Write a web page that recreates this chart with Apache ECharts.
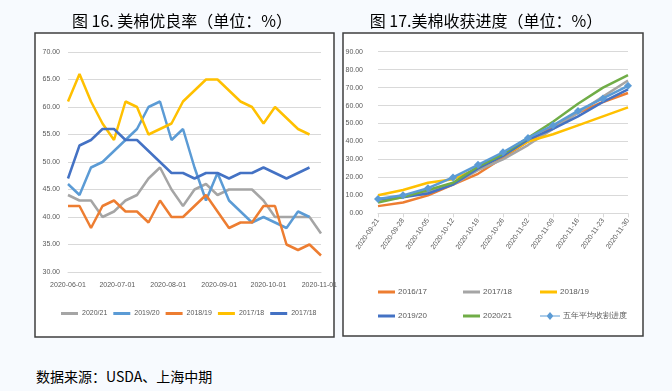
<!DOCTYPE html>
<html><head><meta charset="utf-8">
<script src="https://cdn.jsdelivr.net/npm/echarts@6/dist/echarts.min.js"></script>
<style>
html,body{margin:0;padding:0;background:#F7FAFE;width:672px;height:391px;overflow:hidden;}
#c1{position:absolute;left:0;top:0;width:340px;height:345px;}
#c2{position:absolute;left:340px;top:0;width:332px;height:345px;}
#src{position:absolute;left:36px;top:366px;font-family:"Noto Sans CJK SC";font-size:14px;color:#000;}
</style></head>
<body>
<div id="c1"></div><div id="c2"></div>
<div id="src">数据来源：USDA、上海中期</div>
<script>
// ---- Left chart: 美棉优良率 ----
const leftTitle = '图 16. 美棉优良率（单位：%）';
const leftDates = ['2020-06-01','2020-06-08','2020-06-15','2020-06-22','2020-06-29','2020-07-06','2020-07-13','2020-07-20','2020-07-27','2020-08-03','2020-08-10','2020-08-17','2020-08-24','2020-08-31','2020-09-07','2020-09-14','2020-09-21','2020-09-28','2020-10-05','2020-10-12','2020-10-19','2020-10-26','2020-11-02'];
const leftTickDates = ['2020-06-01','2020-07-01','2020-08-01','2020-09-01','2020-10-01','2020-11-01'];
const leftNames = ['2020/21','2019/20','2018/19','2017/18','2017/18\u2009'];
const good2021 = [44,43,43,40,41,43,44,47,49,45,42,45,46,44,45,45,45,43,40,40,40,40,37];
const good1920 = [46,44,49,50,52,54,56,60,61,54,56,49,43,48,43,41,39,40,39,38,41,40];
const good1819 = [42,42,38,42,43,41,41,39,43,40,40,42,44,41,38,39,39,42,42,35,34,35,33];
const good1718a = [61,66,61,57,54,61,60,55,56,57,61,63,65,65,63,61,60,57,60,58,56,55];
const good1718b = [47,53,54,56,56,54,54,52,50,48,48,47,48,48,47,48,48,49,48,47,48,49];
const leftColors = ['#A5A5A5','#5B9BD5','#ED7D31','#FFC000','#4472C4'];

// ---- Right chart: 美棉收获进度 ----
const rightTitle = '图 17.美棉收获进度（单位：%）';
const rightCats = ['2020-09-21','2020-09-28','2020-10-05','2020-10-12','2020-10-19','2020-10-26','2020-11-02','2020-11-09','2020-11-16','2020-11-23','2020-11-30'];
const rightNames = ['2016/17','2017/18','2018/19','2019/20','2020/21','五年平均收割进度'];
const harv1617 = [4,6,10,16,22,31,40,48,56,62,67];
const harv1718 = [7,9,12,16,24,30,38,47,56,65,74];
const harv1819 = [10,13,17,19,25,32,40,44,49,54,59];
const harv1920 = [8,9,11,16,25,32,41,47,54,62,69];
const harv2021 = [6,9,13,17,26,33,42,51,61,70,77];
const harvAvg = [8,10,14,20,27,34,42,49,57,64,71];
const rightColors = ['#ED7D31','#A5A5A5','#FFC000','#4472C4','#70AD47','#5B9BD5'];

const axisFont = {fontFamily:'Liberation Sans',fontSize:7,color:'#595959'};
const titleStyle = {fontFamily:'Noto Sans CJK SC',fontSize:16,fontWeight:'normal',color:'#000'};

const DAY = 86400000;
const t0 = Date.UTC(2020,5,1);
function dayOf(s){ const p=s.split('-').map(Number); return (Date.UTC(p[0],p[1]-1,p[2])-t0)/DAY; }
function pad(n){ return (n<10?'0':'')+n; }
function dateStr(d){ const t=new Date(t0+d*DAY); return t.getUTCFullYear()+'-'+pad(t.getUTCMonth()+1)+'-'+pad(t.getUTCDate()); }

const leftData = [good2021, good1920, good1819, good1718a, good1718b];
const c1 = echarts.init(document.getElementById('c1'), null, {renderer:'canvas'});
c1.setOption({
  animation:false,
  graphic:[{type:'rect',shape:{x:35,y:33,width:299,height:304},style:{fill:'#fff',stroke:'#3f3f3f',lineWidth:1.5},z:-10}],
  title:{text:leftTitle,left:177,textAlign:'center',top:8,textStyle:titleStyle},
  grid:{left:68,top:52,width:257,height:220},
  legend:{left:61,top:310,padding:0,itemWidth:17,itemHeight:3,itemGap:6,icon:'rect',data:leftNames,
    formatter:n=>n.trim(),textStyle:{fontFamily:'Liberation Sans',fontSize:7,color:'#595959',padding:[0,0,0,-1]}},
  xAxis:{type:'value',min:0,max:dayOf('2020-11-02'),
    axisLine:{lineStyle:{color:'#D9D9D9'}},axisTick:{show:false},splitLine:{show:false},
    axisLabel:Object.assign({customValues:leftTickDates.map(dayOf),margin:10,
      formatter:v=>dateStr(v)},axisFont)},
  yAxis:{type:'value',min:30,max:70,interval:5,axisLine:{show:false},axisTick:{show:false},
    splitLine:{lineStyle:{color:'#D9D9D9'}},
    axisLabel:Object.assign({margin:8,formatter:v=>v.toFixed(2)},axisFont)},
  series:leftNames.map((n,i)=>({name:n,type:'line',symbol:'none',color:leftColors[i],
    lineStyle:{width:2.5,color:leftColors[i]},
    data:leftData[i].map((v,k)=>[dayOf(leftDates[k]),v])}))
});

const rightData = [harv1617,harv1718,harv1819,harv1920,harv2021,harvAvg];
const legPos = [[38,288],[123,288],[200,288],[38,312],[123,312],[200,312]];
const c2 = echarts.init(document.getElementById('c2'), null, {renderer:'canvas'});
c2.setOption({
  animation:false,
  graphic:[{type:'rect',shape:{x:3,y:33,width:300,height:303},style:{fill:'#fff',stroke:'#3f3f3f',lineWidth:1.5},z:-10}],
  title:{text:rightTitle,left:141,textAlign:'center',top:8,textStyle:titleStyle},
  grid:{left:38,top:51.7,width:250,height:161.6},
  legend:rightNames.map((n,i)=>({left:legPos[i][0],top:legPos[i][1],padding:0,
    itemWidth:i===5?20:17,itemHeight:i===5?10:3,
    icon:i===5?'path://M0,4.4L7,4.4L10,1L13,4.4L20,4.4L20,5.6L13,5.6L10,9L7,5.6L0,5.6Z':'rect',
    data:[n],textStyle:{fontFamily:'Liberation Sans',fontSize:8,color:'#595959',padding:[0,0,0,-2]}})),
  xAxis:{type:'category',data:rightCats,boundaryGap:false,
    axisLine:{lineStyle:{color:'#D9D9D9'}},axisTick:{show:true,length:4,lineStyle:{color:'#D9D9D9'}},
    splitLine:{show:false},
    axisLabel:Object.assign({rotate:55,margin:6,interval:0},axisFont)},
  yAxis:{type:'value',min:0,max:90,interval:10,axisLine:{show:false},axisTick:{show:false},
    splitLine:{lineStyle:{color:'#D9D9D9'}},
    axisLabel:Object.assign({margin:15,formatter:v=>v.toFixed(2)},axisFont)},
  series:rightNames.map((n,i)=>({name:n,type:'line',color:rightColors[i],
    symbol:i===5?'diamond':'none',symbolSize:8,
    itemStyle:{color:rightColors[i]},
    lineStyle:{width:2.5,color:rightColors[i]},
    z:i===5?5:2,
    data:rightData[i]}))
});
</script>
</body></html>
